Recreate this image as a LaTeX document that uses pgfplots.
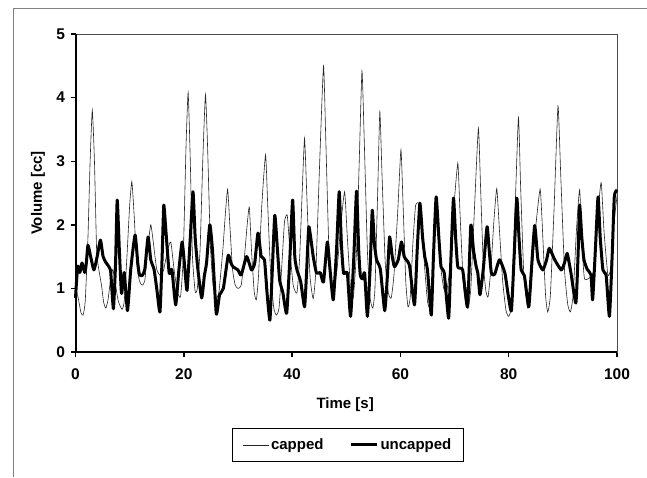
\documentclass[border=0pt]{standalone}
\usepackage{pgfplots}
\pgfplotsset{compat=1.18}
\usepackage{fontspec}
\setmainfont{Liberation Sans}
\begin{document}
\begin{tikzpicture}[x=1pt,y=1pt]
\useasboundingbox (0,0) rectangle (647,477);
\draw[gray, line width=0.8pt] (13,0) -- (13,469) -- (647,469);
\begin{axis}[
  at={(75.5pt,125pt)}, anchor=south west,
  width=541.5pt, height=318pt, scale only axis,
  xmin=0, xmax=100, ymin=0, ymax=5,
  xtick={0,20,...,100}, ytick={0,1,...,5},
  tick align=outside, major tick length=5pt,
  xtick pos=bottom, ytick pos=left,
  tick style={line width=1.4pt, black},
  axis line style={line width=0.7pt, draw=gray!60!black},
  /pgf/number format/assume math mode=true,
  tick label style={font=\fontsize{15.5}{18}\selectfont\bfseries},
  xticklabel style={yshift=-8pt},
  yticklabel style={xshift=-2pt},
  legend columns=2,
  legend style={at={(0.503,-0.292)}, anchor=center, draw=black, line width=0.7pt,
    font=\fontsize{15}{18}\selectfont\bfseries, inner xsep=10pt, inner ysep=8pt,
    /tikz/every even column/.append style={column sep=24pt}},
  legend image code/.code={\draw[#1] (0pt,0pt) -- (26pt,0pt);},
  clip=false,
]
\addplot[black!85, line width=0.6pt, smooth, tension=0.3] coordinates {
(0,1.0)(0.5,0.85)(1.0,0.62)(1.4,0.58)(1.8,0.8)(2.3,1.8)(2.7,3.0)(3.1,3.8)(3.5,3.0)(3.9,1.6)
(4.3,1.3)(4.8,1.05)(5.2,0.78)(5.6,0.69)(6.0,0.82)(6.5,1.15)(6.9,1.3)(7.3,1.1)(7.9,0.8)(8.6,0.67)
(9.0,0.8)(9.5,1.5)(10.0,2.3)(10.4,2.68)(10.8,2.2)(11.3,1.4)(11.8,1.12)(12.3,1.05)(12.8,1.12)(13.3,1.6)
(13.9,2.0)(14.4,1.7)(15.0,1.3)(15.7,1.2)(16.3,1.3)(17.0,1.6)(17.6,1.73)(18.2,1.3)(18.8,0.95)(19.4,0.87)
(19.9,1.5)(20.4,3.2)(20.8,4.08)(21.2,3.0)(21.6,1.5)(22.1,0.95)(22.5,1.0)(23.0,1.6)(23.5,3.0)(24.0,4.05)
(24.4,3.2)(24.9,1.7)(25.4,1.05)(26.0,0.85)(26.5,0.95)(27.2,1.6)(27.7,2.2)(28.1,2.56)(28.5,2.0)(29.0,1.3)
(29.5,1.05)(30.0,1.0)(30.6,1.05)(31.2,1.5)(31.7,2.0)(32.1,2.28)(32.5,1.6)(33.0,0.95)(33.4,0.82)(33.8,1.2)
(34.4,2.3)(35.1,3.1)(35.5,2.3)(36.0,1.3)(36.6,0.7)(37.1,0.58)(37.6,0.7)(38.2,1.5)(38.6,2.05)(39.1,2.15)
(39.6,1.6)(40.2,1.05)(40.9,0.93)(41.4,1.5)(41.9,2.6)(42.3,3.36)(42.7,2.5)(43.3,1.2)(43.9,0.84)(44.4,1.3)
(45.1,3.0)(45.8,4.5)(46.2,3.4)(46.8,1.6)(47.3,1.05)(47.7,0.97)(48.3,1.3)(49.0,2.0)(49.7,2.52)(50.2,1.8)
(50.8,1.0)(51.3,0.85)(51.9,1.6)(52.4,3.0)(52.9,4.42)(53.3,3.4)(53.9,1.6)(54.4,0.85)(54.9,0.69)(55.3,1.0)
(55.8,2.5)(56.2,3.78)(56.6,2.8)(57.2,1.4)(57.8,0.92)(58.3,0.85)(58.8,1.2)(59.5,2.2)(60.1,3.18)(60.5,2.3)
(61.0,1.1)(61.4,0.71)(61.8,0.85)(62.3,1.7)(62.8,2.3)(63.4,2.34)(63.9,2.1)(64.5,1.3)(65.0,0.8)(65.4,0.71)
(65.9,1.2)(66.5,2.35)(66.9,2.0)(67.5,1.3)(68.0,1.0)(68.5,0.93)(69.1,1.3)(69.8,2.2)(70.6,2.97)(71.0,2.2)
(71.6,1.1)(72.1,0.75)(72.5,0.69)(73.0,1.0)(73.7,2.3)(74.4,3.52)(74.8,2.6)(75.3,1.4)(75.8,0.95)(76.2,0.87)
(76.7,1.3)(77.3,2.1)(77.8,2.57)(78.3,1.9)(78.9,1.1)(79.5,0.65)(80.0,0.56)(80.5,0.75)(81.2,2.3)(81.8,3.69)
(82.2,2.6)(82.8,1.2)(83.5,0.69)(84.0,0.9)(84.8,1.8)(85.8,2.56)(86.3,1.8)(86.8,0.9)(87.2,0.63)(87.7,0.9)
(88.4,2.3)(89.1,3.87)(89.6,2.8)(90.3,1.3)(90.9,0.75)(91.4,0.63)(91.9,0.9)(92.5,1.9)(93.1,2.55)(93.6,1.6)
(94.0,1.15)(95.0,1.17)(95.6,1.25)(96.2,1.8)(96.7,2.4)(97.1,2.66)(97.6,1.9)(98.3,1.22)(98.8,1.3)(99.4,2.0)
(100,2.45)
};
\addlegendentry{capped}
\addplot[black, line width=3pt, line join=round, smooth, tension=0.3] coordinates {
(0,0.85)(0.4,1.35)(0.8,1.25)(1.2,1.4)(1.7,1.25)(2.0,1.4)(2.3,1.68)(2.8,1.5)(3.4,1.29)(4.0,1.5)
(4.6,1.76)(5.1,1.5)(5.6,1.41)(6.1,1.35)(6.5,1.26)(7.0,0.68)(7.4,1.4)(7.7,2.39)(8.1,1.6)(8.5,0.92)
(9.0,1.25)(9.6,0.65)(10.2,1.3)(11.0,1.84)(11.5,1.4)(11.8,1.22)(12.3,1.2)(12.8,1.3)(13.4,1.81)(13.9,1.45)
(14.5,1.3)(15.0,1.0)(15.6,0.63)(16.0,1.5)(16.3,2.31)(16.7,1.9)(17.3,1.24)(17.8,1.3)(18.5,0.74)(19.1,1.3)
(19.7,1.73)(20.2,1.3)(20.6,0.97)(21.2,1.8)(21.7,2.52)(22.1,1.8)(22.6,1.3)(23.3,0.85)(23.8,1.2)(24.2,1.4)
(24.8,2.0)(25.3,1.6)(26.0,0.6)(26.6,0.9)(27.3,1.0)(28.2,1.52)(28.7,1.4)(29.1,1.34)(30.0,1.29)(30.6,1.21)
(31.6,1.5)(32.5,1.29)(33.1,1.4)(33.7,1.87)(34.3,1.5)(34.9,1.45)(35.4,0.9)(35.9,0.5)(36.3,1.2)(36.8,2.15)
(37.3,1.6)(37.7,1.13)(38.3,0.93)(39.0,0.61)(39.6,1.5)(40.1,2.39)(40.5,1.5)(40.9,1.29)(41.6,1.1)(42.3,0.71)
(42.7,1.3)(43.1,1.97)(43.9,1.5)(44.5,1.24)(45.2,1.25)(45.8,1.1)(46.5,1.73)(47.0,1.3)(47.6,0.82)(48.2,1.6)
(48.7,2.52)(49.1,1.7)(49.5,1.24)(50.2,1.24)(50.8,0.56)(51.4,1.5)(51.9,2.53)(52.3,1.6)(52.6,1.2)(53.0,1.15)
(53.4,1.24)(53.9,0.56)(54.4,1.3)(54.8,2.23)(55.2,1.7)(55.6,1.45)(56.3,1.3)(57.1,0.65)(57.6,1.2)(58.0,1.81)
(58.5,1.5)(58.9,1.34)(59.6,1.45)(60.2,1.73)(60.7,1.5)(61.1,1.45)(61.7,1.35)(62.6,0.74)(63.1,1.6)(63.6,2.34)
(64.1,1.8)(64.5,1.5)(65.0,1.29)(65.7,0.58)(66.1,1.5)(66.6,2.44)(67.1,1.8)(67.5,1.34)(68.1,1.24)(68.9,0.53)
(69.3,1.4)(69.8,2.42)(70.2,1.8)(70.6,1.34)(71.5,1.29)(72.4,0.71)(73.0,1.99)(73.5,1.6)(74.0,1.34)(74.3,1.24)
(74.7,0.9)(75.3,1.3)(76.0,1.97)(76.4,1.6)(76.8,1.24)(77.4,1.22)(78.3,1.45)(79.3,1.24)(79.9,0.9)(80.5,0.65)
(81.0,1.5)(81.5,2.42)(81.9,1.8)(82.3,1.29)(82.9,1.2)(83.7,0.71)(84.2,1.3)(84.8,1.99)(85.4,1.45)(86.3,1.29)
(87.0,1.45)(87.5,1.63)(88.5,1.45)(89.7,1.29)(90.3,1.4)(90.8,1.55)(91.5,1.24)(92.4,0.77)(92.8,1.5)(93.1,2.31)
(93.5,1.8)(93.9,1.45)(94.5,1.3)(95.2,1.21)(95.5,0.82)(96.0,1.6)(96.5,2.44)(96.9,1.8)(97.4,1.29)(98.0,1.2)
(98.6,0.56)(99.1,1.5)(99.5,2.44)(100,2.55)
};
\addlegendentry{uncapped}
\draw[black, line width=2pt] (rel axis cs:0,1) -- (rel axis cs:0,0) -- (rel axis cs:1,0);
\node[rotate=90, font=\fontsize{15}{18}\selectfont\bfseries] at (rel axis cs:-0.0693,0.5) {Volume [cc]};
\node[font=\fontsize{15}{18}\selectfont\bfseries] at (rel axis cs:0.498,-0.1667) {Time [s]};
\end{axis}
\end{tikzpicture}
\end{document}
